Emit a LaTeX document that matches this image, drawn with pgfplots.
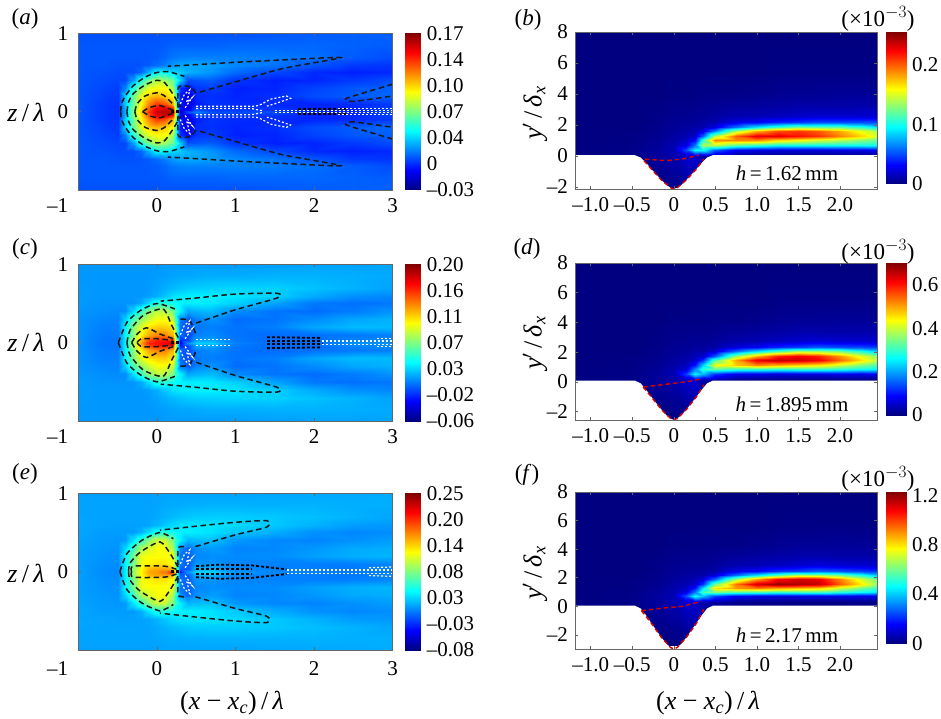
\documentclass[border=0pt]{standalone}
\usepackage{pgfplots}
\pgfplotsset{compat=1.18}
\usepackage{pgfplotstable}
\usepackage{fontspec}
\setmainfont{Liberation Serif}
\newcommand{\tf}{\fontsize{21}{24}\selectfont}
\newcommand{\lf}{\fontsize{26}{28}\selectfont}
\newcommand{\pf}{\fontsize{23}{26}\selectfont}
\pgfplotstableread{
x z a c e
-1 0 1.2 1 1.3
-.7 0 .7 .3 .7
-.5 0 .5 .3 .6
-.4 0 3 3.5 4
-.3 0 7 8 9
-.2 0 10.5 12.5 13
-.1 0 13.5 16 15.5
0 0 15.5 16.5 16
.1 0 16 17 17
.2 0 15.5 18 20
.3 0 -2 -3 -3
.4 0 1 1 1
.5 0 2 2.5 3
.7 0 1 2.5 3
1 0 1 .6 1
1.5 0 1 0 .5
2 0 .3 0 .3
2.5 0 .2 1 0
3 0 1 1 .5
-1 .04 1.2 1 1.3
-.7 .04 .7 .3 .7
-.5 .04 .5 .3 .6
-.4 .04 3 3.5 4
-.3 .04 7 8 9
-.2 .04 10 12 12.5
-.1 .04 13 15 15
0 .04 15 16 15.5
.1 .04 15.5 16 15.5
.2 .04 14 15 15
.3 .04 -1 -2 -1
.4 .04 -1 -1 -1
.5 .04 1 1.5 2
.7 .04 .5 1.5 2
1 .04 .5 .3 .6
1.5 .04 .5 0 .3
2 .04 .2 0 .2
2.5 .04 .2 .6 0
3 .04 .8 .8 .4
-1 .1 1.2 1 1.3
-.7 .1 .7 .4 .8
-.5 .1 .5 .4 .7
-.4 .1 3.5 3.5 4
-.3 .1 6.5 7 8
-.2 .1 9.5 10.5 12
-.1 .1 12 12.5 13
0 .1 13.5 13.5 13.5
.1 .1 13 13.5 13.5
.2 .1 11 12 12.5
.3 .1 0 0 0
.4 .1 -1 -1 -1
.5 .1 0 .5 1
.7 .1 .5 .8 1
1 .1 .3 .2 .5
1.5 .1 .3 0 .3
2 .1 .2 .1 .2
2.5 .1 .3 .3 .2
3 .1 .6 .5 .4
-1 .2 1.2 1 1.3
-.7 .2 .8 .5 .9
-.5 .2 .6 .5 .8
-.4 .2 3.5 3.5 4
-.3 .2 6.5 7 8
-.2 .2 9 9.5 12
-.1 .2 10.5 11 12.5
0 .2 11 11.5 12.5
.1 .2 10.5 11.5 12.5
.2 .2 9.5 11 12
.3 .2 0 0 0
.4 .2 -1 -1 -1
.5 .2 .3 .3 .5
.7 .2 .4 .5 .7
1 .2 .2 .2 .6
1.5 .2 .4 .5 .7
2 .2 1 1.5 1.3
2.5 .2 1.3 2 1.8
3 .2 1.5 2 2
-1 .3 1.2 1 1.3
-.7 .3 .9 .7 1
-.5 .3 .7 .6 .9
-.4 .3 2 2.5 3
-.3 .3 5 5.5 6
-.2 .3 7.5 7.5 10
-.1 .3 9 9 11.5
0 .3 9.5 10 12.5
.1 .3 9.5 10 12.5
.2 .3 7.5 8.5 9.5
.3 .3 .5 .5 .5
.4 .3 -.5 -.5 -.5
.5 .3 .5 .6 .8
.7 .3 .7 1 1.2
1 .3 .1 0 .4
1.5 .3 .2 .2 .5
2 .3 .8 .8 1
2.5 .3 1.2 1.5 1.6
3 .3 1.4 1.8 1.8
-1 .4 1.2 1.1 1.4
-.7 .4 1 .9 1.1
-.5 .4 .9 .8 1
-.4 .4 .9 .8 1.1
-.3 .4 2.5 2.8 3.5
-.2 .4 5 5 6
-.1 .4 7 7.5 9
0 .4 8 8.5 11
.1 .4 7.5 8.5 11
.2 .4 6.5 6.5 8
.3 .4 3.5 3.5 4
.4 .4 1 1.5 2
.5 .4 1.2 1.8 2.2
.7 .4 1.3 2 2.3
1 .4 .5 .8 1
1.5 .4 .1 .2 .5
2 .4 .2 0 .4
2.5 .4 .6 .4 .8
3 .4 1 1 1.2
-1 .5 1.2 1.2 1.5
-.7 .5 1.1 1 1.2
-.5 .5 1 1 1.2
-.4 .5 1 1 1.2
-.3 .5 1 1 1.2
-.2 .5 1.5 1.6 1.8
-.1 .5 3 3 3.5
0 .5 4.5 4.5 5
.1 .5 4.5 4.8 5.5
.2 .5 3.8 4 4.6
.3 .5 3.5 3.6 4
.4 .5 3 3.3 3.9
.5 .5 2.8 3.4 3.8
.7 .5 2.4 3.2 3.5
1 .5 1.6 2.6 2.6
1.5 .5 .9 1.4 1.7
2 .5 .3 .3 .8
2.5 .5 .1 .1 .5
3 .5 .3 .3 .7
-1 .6 1.2 1.2 1.5
-.7 .6 1.2 1.1 1.4
-.5 .6 1.1 1.1 1.3
-.4 .6 1.1 1.1 1.3
-.3 .6 1.1 1.1 1.3
-.2 .6 1.1 1.1 1.3
-.1 .6 1.3 1.3 1.5
0 .6 1.6 1.7 2
.1 .6 2 2.3 2.6
.2 .6 2.5 3 3.2
.3 .6 2.8 3.3 3.5
.4 .6 2.8 3.4 3.6
.5 .6 2.8 3.4 3.6
.7 .6 2.6 3.4 3.5
1 .6 2.2 3.2 3.2
1.5 .6 1.8 2.6 2.6
2 .6 1.2 1.6 1.9
2.5 .6 .6 .9 1.2
3 .6 .5 .7 1
-1 .7 1.2 1.2 1.5
-.7 .7 1.2 1.1 1.4
-.5 .7 1.2 1.1 1.4
-.4 .7 1.2 1.1 1.4
-.3 .7 1.2 1.1 1.4
-.2 .7 1.2 1.1 1.4
-.1 .7 1.2 1.2 1.4
0 .7 1.3 1.4 1.6
.1 .7 1.5 1.7 1.9
.2 .7 1.8 2 2.2
.3 .7 1.9 2.2 2.4
.4 .7 2 2.4 2.6
.5 .7 2 2.5 2.7
.7 .7 2 2.6 2.8
1 .7 2 2.7 2.8
1.5 .7 1.9 2.6 2.6
2 .7 1.7 2.2 2.3
2.5 .7 1.3 1.8 1.9
3 .7 1 1.4 1.5
-1 .85 1.2 1.1 1.4
-.7 .85 1.2 1.1 1.4
-.5 .85 1.2 1.1 1.4
-.4 .85 1.2 1.1 1.4
-.3 .85 1.2 1.1 1.4
-.2 .85 1.2 1.1 1.4
-.1 .85 1.2 1.1 1.4
0 .85 1.2 1.2 1.5
.1 .85 1.3 1.3 1.6
.2 .85 1.4 1.4 1.7
.3 .85 1.4 1.5 1.7
.4 .85 1.4 1.5 1.8
.5 .85 1.4 1.6 1.8
.7 .85 1.4 1.7 1.9
1 .85 1.5 1.7 1.9
1.5 .85 1.5 1.8 1.9
2 .85 1.5 1.8 1.9
2.5 .85 1.4 1.7 1.8
3 .85 1.3 1.6 1.8
-1 1 1.1 1.1 1.3
-.7 1 1.1 1.1 1.3
-.5 1 1.1 1.1 1.3
-.4 1 1.1 1.1 1.3
-.3 1 1.1 1.1 1.3
-.2 1 1.1 1.1 1.3
-.1 1 1.1 1.1 1.3
0 1 1.1 1.1 1.3
.1 1 1.1 1.2 1.4
.2 1 1.1 1.2 1.4
.3 1 1.1 1.2 1.4
.4 1 1.1 1.2 1.4
.5 1 1.1 1.2 1.4
.7 1 1.1 1.2 1.4
1 1 1.1 1.2 1.4
1.5 1 1.2 1.3 1.5
2 1 1.3 1.4 1.6
2.5 1 1.4 1.4 1.6
3 1 1.4 1.5 1.7
}\lefttab
\pgfplotstableread{
x y b d f
-1.19 -3 0 0 0
-.5 -3 0 0 0
-.2 -3 0 0 0
0 -3 0 0 0
.15 -3 0 0 0
.25 -3 0 0 0
.35 -3 0 0 0
.5 -3 0 0 0
.75 -3 0 0 0
1 -3 0 0 0
1.25 -3 0 0 0
1.5 -3 0 0 0
1.75 -3 0 0 0
2 -3 0 0 0
2.25 -3 0 0 0
2.445 -3 0 0 0
-1.19 0 0 0 0
-.5 0 .2 .5 1
-.2 0 .7 1.8 3.5
0 0 1.2 3 6
.15 0 2 5 10
.25 0 2 6 10
.35 0 1 2 5
.5 0 .8 2 4
.75 0 .3 .8 1.5
1 0 .2 .6 1
1.25 0 .2 .6 1
1.5 0 .1 .3 .5
1.75 0 .1 .3 .5
2 0 .1 .3 .5
2.25 0 .2 .5 1
2.445 0 .2 .5 1
-1.19 .4 0 0 0
-.5 .4 .2 .5 1
-.2 .4 .7 1.8 3.5
0 .4 1.4 3.5 7
.15 .4 5 13 25
.25 .4 9.5 26 48
.35 .4 9.8 21 38
.5 .4 5.5 12 23
.75 .4 3 7.5 14
1 .4 2.5 6.8 12
1.25 .4 2.2 6.3 11.5
1.5 .4 2.2 6.5 12
1.75 .4 2.2 6.5 12
2 .4 2.5 7 12.5
2.25 .4 2.5 6.8 11.6
2.445 .4 3 7.7 12.9
-1.19 .7 0 0 0
-.5 .7 .2 .5 1
-.2 .7 .6 1.5 3
0 .7 1.2 3 6
.15 .7 2.5 6 12
.25 .7 6 18 30
.35 .7 14 30 55
.5 .7 14.5 33 61
.75 .7 12 30 56
1 .7 11 30 54
1.25 .7 10 29 52
1.5 .7 10 30 53
1.75 .7 10 30 54
2 .7 10 29 50
2.25 .7 10 27 46
2.445 .7 10 26 43
-1.19 1 0 0 0
-.5 1 .1 .3 .5
-.2 1 .5 1.3 2.5
0 1 1 2.5 5
.15 1 1.6 4 8
.25 1 3.5 10 18
.35 1 11 23 43
.5 1 19 43 80
.75 1 19 47 89
1 1 19 52 93
1.25 1 17 49 88
1.5 1 16 47 85
1.75 1 15 45 82
2 1 14 40 70
2.25 1 13 35 60
2.445 1 12 31 51
-1.19 1.3 0 0 0
-.5 1.3 .1 .3 .5
-.2 1.3 .4 1 2
0 1.3 .9 2.3 4.5
.15 1.3 1.2 3 6
.25 1.3 1.8 5 9
.35 1.3 5.7 12 22
.5 1.3 14 32 59
.75 1.3 20 50 93
1 1.3 23 63 113
1.25 1.3 23 66 120
1.5 1.3 22 65 117
1.75 1.3 21 62 114
2 1.3 19 54 96
2.25 1.3 17 46 79
2.445 1.3 15 39 64
-1.19 1.6 0 0 0
-.5 1.6 .1 .3 .5
-.2 1.6 .3 .8 1.5
0 1.6 .7 1.8 3.5
.15 1.6 .9 2.3 4.5
.25 1.6 1.2 3.6 6
.35 1.6 2.5 5 10
.5 1.6 6.6 15 28
.75 1.6 14 36 65
1 1.6 18 49 88
1.25 1.6 20.5 59 107
1.5 1.6 21 62 112
1.75 1.6 20 59 109
2 1.6 18 51 91
2.25 1.6 15.5 42 72
2.445 1.6 14 36 60
-1.19 1.9 0 0 0
-.5 1.9 0 0 0
-.2 1.9 .3 .8 1.5
0 1.9 .6 1.5 3
.15 1.9 .7 1.8 3.5
.25 1.9 .9 2.7 4.5
.35 1.9 1.2 2.5 4.7
.5 1.9 2.5 5.7 10.5
.75 1.9 6 16 28
1 1.9 9 24 43
1.25 1.9 11 31 56
1.5 1.9 12.5 37 67
1.75 1.9 12 36 65
2 1.9 12 34 60
2.25 1.9 10.5 28 49
2.445 1.9 9 23 39
-1.19 2.2 0 0 0
-.5 2.2 0 0 0
-.2 2.2 .2 .5 1
0 2.2 .5 1.3 2.5
.15 2.2 .6 1.5 3
.25 2.2 .7 2 3.5
.35 2.2 .9 1.9 3.5
.5 2.2 1.2 2.7 5
.75 2.2 2.5 6 12
1 2.2 3 8 15
1.25 2.2 4 11.5 21
1.5 2.2 4.4 13 23
1.75 2.2 5 15 27
2 2.2 5 14 25
2.25 2.2 5 13.5 23
2.445 2.2 5 13 21
-1.19 2.6 0 0 0
-.5 2.6 0 0 0
-.2 2.6 .2 .5 1
0 2.6 .4 1 2
.15 2.6 .4 1 2
.25 2.6 .5 1.5 2.5
.35 2.6 .6 1.3 2.3
.5 2.6 .8 1.8 3.4
.75 2.6 1.2 3 5.6
1 2.6 1.3 3.5 6.4
1.25 2.6 1.5 4.3 7.8
1.5 2.6 1.8 5.3 9.6
1.75 2.6 2 6 11
2 2.6 2 5.7 10
2.25 2.6 2 5.4 9.3
2.445 2.6 2.2 5.6 9.4
-1.19 3.2 0 0 0
-.5 3.2 0 0 0
-.2 3.2 .1 .3 .5
0 3.2 .3 .8 1.5
.15 3.2 .3 .8 1.5
.25 3.2 .3 .9 1.5
.35 3.2 .4 .8 1.6
.5 3.2 .5 1.1 2.1
.75 3.2 .7 1.7 3.3
1 3.2 .8 2.2 3.9
1.25 3.2 .9 2.6 4.7
1.5 3.2 1 3 5.3
1.75 3.2 1 3 5.4
2 3.2 1 2.9 5
2.25 3.2 1.1 3 5.1
2.445 3.2 1.2 3.1 5.1
-1.19 4 0 0 0
-.5 4 0 0 0
-.2 4 0 0 0
0 4 .1 .3 .5
.15 4 .1 .3 .5
.25 4 .1 .3 .5
.35 4 .2 .4 .8
.5 4 .2 .5 .8
.75 4 .2 .5 .9
1 4 .3 .8 1.5
1.25 4 .4 1.2 2.1
1.5 4 .5 1.5 2.7
1.75 4 .5 1.5 2.7
2 4 .6 1.7 3
2.25 4 .6 1.6 2.8
2.445 4 .6 1.5 2.6
-1.19 5.5 0 0 0
-.5 5.5 0 0 0
-.2 5.5 0 0 0
0 5.5 0 0 0
.15 5.5 0 0 0
.25 5.5 0 0 0
.35 5.5 0 0 0
.5 5.5 0 0 0
.75 5.5 0 0 0
1 5.5 0 0 0
1.25 5.5 .1 .3 .5
1.5 5.5 .1 .3 .5
1.75 5.5 .1 .3 .5
2 5.5 .1 .3 .5
2.25 5.5 .1 .3 .5
2.445 5.5 .1 .3 .5
-1.19 8 0 0 0
-.5 8 0 0 0
-.2 8 0 0 0
0 8 0 0 0
.15 8 0 0 0
.25 8 0 0 0
.35 8 0 0 0
.5 8 0 0 0
.75 8 0 0 0
1 8 0 0 0
1.25 8 0 0 0
1.5 8 0 0 0
1.75 8 0 0 0
2 8 0 0 0
2.25 8 0 0 0
2.445 8 0 0 0
}\righttab
\pgfplotsset{
  colormap/jet,
  every axis/.append style={font=\tf, axis line style={draw=black!60, line width=0.7pt}, tick style={draw=black!60, line width=0.6pt}, major tick length=3pt, tick align=inside},
  lft/.style={scale only axis, width=314.5pt, height=156.7pt, anchor=south west, axis on top,
    xmin=-1, xmax=3, ymin=-1, ymax=1, xtick={-1,0,1,2,3},
    xticklabels={\makebox[0pt][r]{–1\hspace{10pt}},0,1,2,3}, ytick={-1,0,1}, yticklabels={,0,1},
    xticklabel style={inner sep=0pt, yshift=-8pt}, yticklabel style={inner sep=0pt, xshift=-10pt}},
  rgt/.style={scale only axis, width=302pt, height=157pt, anchor=south west, axis on top,
    xmin=-1.19, xmax=2.445, ymax=8, xtick={-1,-.5,0,.5,1,1.5,2},
    xticklabels={–1.0,–0.5,0,0.5,1.0,1.5,2.0}, ytick={-2,0,2,4,6,8}, yticklabels={–2,0,2,4,6,8},
    xticklabel style={inner sep=0pt, yshift=-8pt}, yticklabel style={inner sep=0pt, xshift=-7pt}},
  cb/.style={scale only axis, anchor=south west, xmin=0, xmax=1, xtick=\empty, yticklabel pos=right,
    tick style={draw=none}, axis line style={draw=none}, yticklabel style={inner sep=0pt, xshift=6pt}},
  ctr/.style={no marks, black!90, line width=1.5pt, dash pattern=on 5.5pt off 3.5pt, smooth, tension=.4},
  wd/.style={no marks, white, line width=1.2pt, dash pattern=on 2pt off 2pt},
  kd/.style={no marks, black, line width=1.8pt, dash pattern=on 3pt off 2pt},
  rd/.style={no marks, red!85!black, line width=1.4pt, dash pattern=on 4.5pt off 3pt},
}
\newcommand{\mir}[2]{%
  \addplot[#1] table[row sep=\\]{x y\\#2};
  \addplot[#1] table[row sep=\\, y expr=-\thisrow{y}]{x y\\#2};}
\newcommand{\heat}[1]{%
  \addplot[surf, shader=interp, mesh/cols=19, point meta=explicit] table[x=x, y=z, meta=#1] {\lefttab};
  \addplot[surf, shader=interp, mesh/cols=19, point meta=explicit] table[x=x, y expr=-\thisrow{z}, meta=#1] {\lefttab};}
\newcommand{\heatr}[2]{%
  \addplot[surf, shader=interp, mesh/cols=16, point meta=explicit] table[x=x, y expr=\thisrow{y}+#2, meta=#1] {\righttab};}
\newcommand{\centre}{%
  \mir{wd}{.3 .1\\.35 .22\\.42 .28\\.38 .12\\.45 .18\\.36 .05\\}
  \addplot[kd, line width=2.4pt] coordinates {(.18,0) (.3,0)};}
\begin{document}
\begin{tikzpicture}
\path[use as bounding box] (0,0) rectangle (941pt,-719pt);
% ---- (a)
\begin{axis}[lft, at={(78.2pt,-190pt)}, point meta min=-3, point meta max=17]
\heat{a}
\mir{ctr}{.55 .25\\1 .38\\1.6 .55\\2.34 .69\\1.6 .66\\1 .63\\.5 .6\\.14 .58\\}
\mir{ctr}{-.46 0\\-.45 .1\\-.4 .2\\-.3 .33\\-.15 .44\\0 .5\\.15 .51\\.35 .45\\}
\mir{ctr}{-.38 0\\-.36 .12\\-.3 .23\\-.15 .34\\0 .4\\.1 .37\\.22 .2\\.3 .06\\}
\mir{ctr}{-.28 0\\-.25 .1\\-.15 .2\\0 .24\\.1 .2\\.2 .1\\}
\mir{ctr}{-.18 0\\-.1 .05\\.03 .08\\.15 .04\\.25 .01\\}
\mir{ctr}{.27 .05\\.27 .3\\.35 .33\\.45 .3\\.52 .2\\}
\mir{ctr}{3 .35\\2.5 .2\\2.4 .16\\2.5 .13\\3 .2\\}
\mir{kd}{1.8 .03\\2.4 .03\\}
\mir{wd}{.5 .04\\1.2 .04\\1.35 .01\\}
\mir{wd}{.5 .07\\1.25 .07\\1.3 .08\\1.45 .16\\1.65 .2\\1.7 .17\\1.5 .1\\1.4 .07\\}
\mir{wd}{1.5 .01\\3 .01\\}
\mir{wd}{2.3 .04\\3 .04\\}
\centre
\end{axis}
\begin{axis}[cb, at={(405.3pt,-190pt)}, width=15.4pt, height=156.7pt, ymin=-3, ymax=17, point meta min=-3, point meta max=17,
  ytick={-3,.33,3.67,7,10.33,13.67,17}, yticklabels={–0.03,0,0.04,0.07,0.10,0.14,0.17}]
\addplot[surf, shader=interp, mesh/cols=2, point meta=y] coordinates {(0,-3) (1,-3) (0,17) (1,17)};
\end{axis}
% ---- (c)
\begin{axis}[lft, at={(78.2pt,-421pt)}, point meta min=-6, point meta max=20]
\heat{c}
\mir{ctr}{.5 .25\\1 .42\\1.53 .57\\1.53 .63\\1 .62\\.5 .57\\.05 .53\\}
\mir{ctr}{-.49 0\\-.38 .26\\-.21 .41\\0 .5\\.23 .43\\}
\mir{ctr}{-.38 0\\-.34 .16\\-.17 .35\\.08 .43\\.19 .22\\.28 .05\\}
\mir{ctr}{-.32 0\\-.25 .11\\-.13 .19\\.04 .11\\.21 .05\\}
\mir{ctr}{-.25 0\\-.2 .05\\0 .05\\.2 .03\\}
\mir{ctr}{.3 .3\\.42 .28\\.5 .1\\}
\mir{kd}{1.4 .07\\2.1 .06\\}
\mir{kd}{1.4 .02\\2.1 .02\\}
\mir{wd}{.5 .04\\.95 .04\\}
\mir{wd}{2.1 .02\\3 .02\\}
\mir{wd}{2.8 .05\\3 .05\\}
\centre
\end{axis}
\begin{axis}[cb, at={(405.3pt,-421pt)}, width=15.4pt, height=156.7pt, ymin=-6, ymax=20, point meta min=-6, point meta max=20,
  ytick={-6,-1.67,2.67,7,11.33,15.67,20}, yticklabels={–0.06,–0.02,0.03,0.07,0.11,0.16,0.20}]
\addplot[surf, shader=interp, mesh/cols=2, point meta=y] coordinates {(0,-6) (1,-6) (0,20) (1,20)};
\end{axis}
% ---- (e)
\begin{axis}[lft, at={(78.2pt,-650pt)}, point meta min=-8, point meta max=25, xticklabel style={yshift=-3pt}]
\heat{e}
\mir{ctr}{.49 .32\\1 .47\\1.4 .57\\1.4 .65\\1 .63\\.5 .58\\.04 .53\\}
\mir{ctr}{-.47 0\\-.38 .23\\-.19 .4\\.04 .5\\.21 .42\\}
\mir{ctr}{-.36 0\\-.34 .11\\-.21 .25\\.04 .38\\.17 .23\\.28 .04\\}
\mir{ctr}{-.32 0\\-.3 .07\\.1 .07\\.25 .03\\}
\mir{ctr}{.27 .08\\.27 .3\\.35 .32\\}
\mir{kd}{.5 .07\\.8 .09\\1.2 .08\\1.65 .03\\}
\mir{kd}{.5 .03\\1.2 .03\\}
\mir{wd}{1.65 .02\\3 .02\\}
\mir{wd}{2.7 .05\\3 .06\\}
\centre
\end{axis}
\begin{axis}[cb, at={(405.3pt,-650pt)}, width=15.4pt, height=156.7pt, ymin=-8, ymax=25, point meta min=-8, point meta max=25,
  ytick={-8,-2.5,3,8.5,14,19.5,25}, yticklabels={–0.08,–0.03,0.03,0.08,0.14,0.20,0.25}]
\addplot[surf, shader=interp, mesh/cols=2, point meta=y] coordinates {(0,-8) (1,-8) (0,25) (1,25)};
\end{axis}
% ---- (b)
\begin{axis}[rgt, at={(575pt,-189pt)}, ymin=-2.13, point meta min=0, point meta max=25.5]
\heatr{b}{0}
\addplot[fill=white, draw=none] coordinates {(-1.19,-3) (-1.19,.05) (-.47,.05) (-.4,-.1) (-.33,-.47) (-.27,-.85) (-.21,-1.2) (-.15,-1.55) (-.09,-1.87) (-.04,-2.05) (0,-2.13) (.04,-2.05) (.09,-1.87) (.15,-1.55) (.21,-1.2) (.27,-.85) (.33,-.47) (.4,-.1) (.47,.05) (2.445,.05) (2.445,-3)};
\addplot[rd] coordinates {(-.35,-.2) (-.1,-.3) (.1,-.2) (.3,.05)};
\addplot[rd] coordinates {(-.36,-.3) (-.27,-.85) (-.15,-1.55) (-.04,-2.05) (0,-2.13) (.04,-2.05) (.15,-1.55) (.27,-.85) (.36,-.2)};
\end{axis}
\begin{axis}[cb, at={(886pt,-184pt)}, width=20pt, height=152pt, ymin=0, ymax=25.5, point meta min=0, point meta max=25.5,
  ytick={0,10,20}, yticklabels={0,0.1,0.2}]
\addplot[surf, shader=interp, mesh/cols=2, point meta=y] coordinates {(0,0) (1,0) (0,25.5) (1,25.5)};
\end{axis}
% ---- (d)
\begin{axis}[rgt, at={(575pt,-420pt)}, ymin=-2.57, point meta min=0, point meta max=70]
\heatr{d}{.15}
\addplot[fill=white, draw=none] coordinates {(-1.19,-3) (-1.19,.08) (-.47,.08) (-.4,-.1) (-.33,-.57) (-.27,-1.02) (-.21,-1.45) (-.15,-1.87) (-.09,-2.25) (-.04,-2.47) (0,-2.57) (.04,-2.47) (.09,-2.25) (.15,-1.87) (.21,-1.45) (.27,-1.02) (.33,-.57) (.4,-.1) (.47,.08) (2.445,.08) (2.445,-3)};
\addplot[rd] coordinates {(-.37,-.35) (0,-.1) (.2,.05) (.33,.2)};
\addplot[rd] coordinates {(-.37,-.35) (-.27,-1.02) (-.15,-1.87) (-.04,-2.47) (0,-2.57) (.04,-2.47) (.15,-1.87) (.27,-1.02) (.36,-.2)};
\end{axis}
\begin{axis}[cb, at={(886pt,-415pt)}, width=20pt, height=151.7pt, ymin=0, ymax=70, point meta min=0, point meta max=70,
  ytick={0,20,40,60}, yticklabels={0,0.2,0.4,0.6}]
\addplot[surf, shader=interp, mesh/cols=2, point meta=y] coordinates {(0,0) (1,0) (0,70) (1,70)};
\end{axis}
% ---- (f)
\begin{axis}[rgt, at={(575pt,-649pt)}, ymin=-2.98, point meta min=0, point meta max=122.5]
\heatr{f}{.3}
\addplot[fill=white, draw=none] coordinates {(-1.19,-3) (-1.19,.05) (-.47,.05) (-.4,-.15) (-.33,-.66) (-.27,-1.19) (-.21,-1.68) (-.15,-2.17) (-.09,-2.62) (-.04,-2.87) (0,-2.98) (.04,-2.87) (.09,-2.62) (.15,-2.17) (.21,-1.68) (.27,-1.19) (.33,-.66) (.4,-.15) (.47,.05) (2.445,.05) (2.445,-3)};
\addplot[rd] coordinates {(-.39,-.3) (-.1,-.1) (.1,0) (.33,.35)};
\addplot[rd] coordinates {(-.39,-.3) (-.27,-1.19) (-.15,-2.17) (-.04,-2.87) (0,-2.98) (.04,-2.87) (.15,-2.17) (.27,-1.19) (.36,-.2)};
\end{axis}
\begin{axis}[cb, at={(886pt,-643.3pt)}, width=20pt, height=151pt, ymin=0, ymax=122.5, point meta min=0, point meta max=122.5,
  ytick={0,40,80,120}, yticklabels={0,0.4,0.8,1.2}]
\addplot[surf, shader=interp, mesh/cols=2, point meta=y] coordinates {(0,0) (1,0) (0,122.5) (1,122.5)};
\end{axis}
% ---- labels
\pf
\node at (25pt,-19pt) {(\textit{a})};
\node at (25pt,-249pt) {(\textit{c})};
\node at (25pt,-474pt) {(\textit{e})};
\node at (528pt,-20pt) {(\textit{b})};
\node at (527pt,-249pt) {(\textit{d})};
\node at (527pt,-475pt) {(\textit{f})};
\foreach \yy in {19,252,479} \node at (878pt,-\yy pt) {(×10$^{-3}$)};
\lf
\foreach \yy in {112,342,573} \node at (26pt,-\yy pt) {\textit{z}\,/\,\textit{λ}};
\foreach \yy in {113,343,573} \node[rotate=90] at (535pt,-\yy pt) {\textit{y}$'$\,/\,\textit{δ}\textsubscript{\textit{x}}};
\node at (232pt,-703pt) {(\textit{x} − \textit{x}\textsubscript{\textit{c}})\,/\,\textit{λ}};
\node at (708pt,-703pt) {(\textit{x} − \textit{x}\textsubscript{\textit{c}})\,/\,\textit{λ}};
\tf
\node at (787pt,-173pt) {\textit{h}\,=\,1.62\,mm};
\node at (792pt,-404pt) {\textit{h}\,=\,1.895\,mm};
\node at (787pt,-635pt) {\textit{h}\,=\,2.17\,mm};
\end{tikzpicture}
\end{document}
